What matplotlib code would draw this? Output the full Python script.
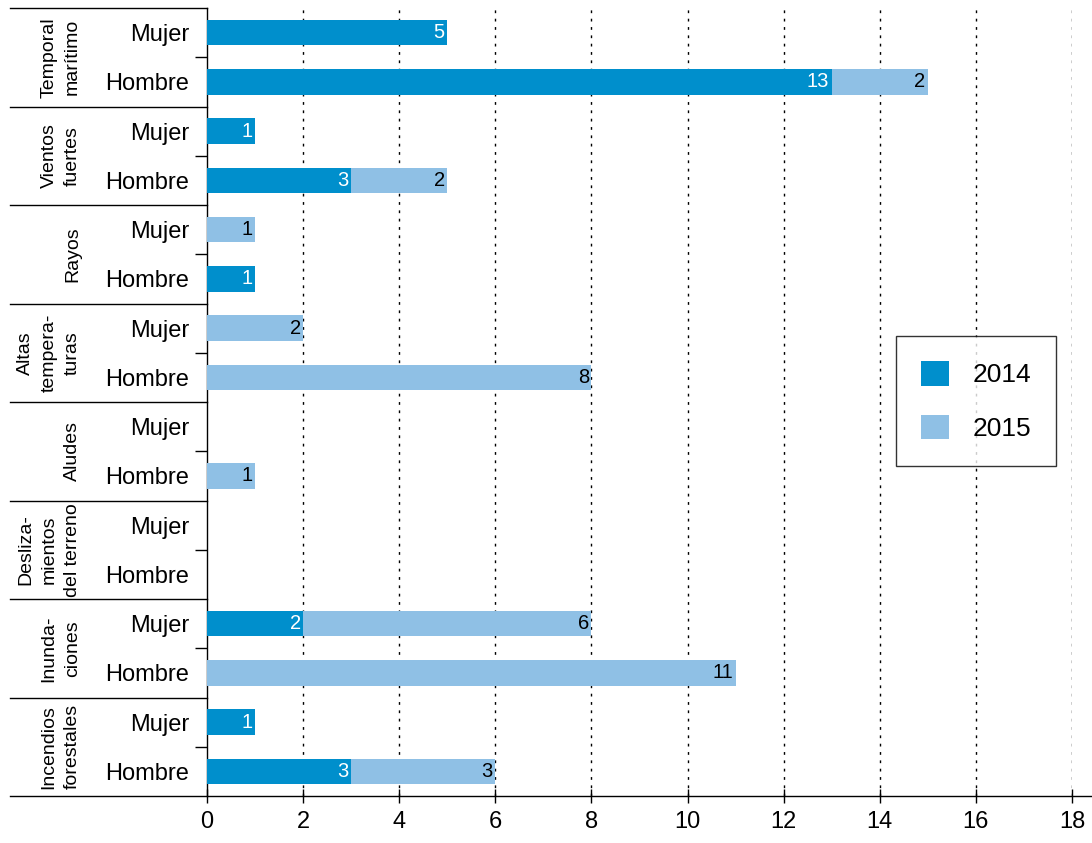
import matplotlib.pyplot as plt
import matplotlib.transforms as mtransforms
from matplotlib.patches import Patch

plt.rcParams['font.family'] = ['Liberation Sans', 'DejaVu Sans']

groups = ["Temporal\nmarítimo", "Vientos\nfuertes", "Rayos", "Altas\ntempera-\nturas",
          "Aludes", "Desliza-\nmientos\ndel terreno", "Inunda-\nciones", "Incendios\nforestales"]
sexes = ["Mujer", "Hombre"]
# values per row, top to bottom (Mujer, Hombre for each group)
v2014 = [5, 13, 1, 3, 0, 1, 0, 0, 0, 0, 0, 0, 2, 0, 1, 3]
v2015 = [0, 2, 0, 2, 1, 0, 2, 8, 0, 1, 0, 0, 6, 11, 0, 3]
years = ["2014", "2015"]
c2014 = "#008fcc"
c2015 = "#8fc0e5"

fig = plt.figure(figsize=(10.92, 8.43), dpi=100)
ax = fig.add_axes([207 / 1092, 47 / 843, 865 / 1092, 788 / 843])

rows = list(range(len(v2014)))
ax.barh(rows, v2014, height=0.52, color=c2014, zorder=3)
ax.barh(rows, v2015, left=v2014, height=0.52, color=c2015, zorder=3)

# value labels at the end of each segment
for r in rows:
    if v2014[r] > 0:
        ax.text(v2014[r] - 0.05, r, str(v2014[r]), ha='right', va='center',
                color='white', fontsize=14.5, zorder=4)
    if v2015[r] > 0:
        ax.text(v2014[r] + v2015[r] - 0.05, r, str(v2015[r]), ha='right', va='center',
                color='black', fontsize=14.5, zorder=4)

ax.set_xlim(0, 18)
ax.set_ylim(len(rows) - 0.5, -0.5)
ax.set_xticks(range(0, 19, 2))
ax.tick_params(axis='x', direction='inout', length=10, width=1, labelsize=17, pad=6)
ax.set_yticks(rows)
ax.set_yticklabels(sexes * len(groups))
ax.tick_params(axis='y', which='major', length=0, labelsize=17, pad=13)
ax.set_yticks([2 * i + 0.5 for i in range(len(groups))], minor=True)
ax.tick_params(axis='y', which='minor', length=9, width=1, direction='out')

for x in range(2, 19, 2):
    ax.axvline(x, color='black', linestyle=(0, (2, 4)), linewidth=1, zorder=1)

for s in ['top', 'right', 'bottom']:
    ax.spines[s].set_visible(False)
ax.spines['left'].set_linewidth(1)

# group separators and labels on the left
trans = mtransforms.blended_transform_factory(ax.transAxes, ax.transData)
x_left = (10 - 207) / 865
for i in range(len(groups) + 1):
    yb = 2 * i - 0.5
    x_right = 1.03 if i == len(groups) else 0
    ax.plot([x_left, x_right], [yb, yb], color='black', linewidth=1,
            transform=trans, clip_on=False)
for i, g in enumerate(groups):
    ax.text((81 - 207) / 865, 2 * i + 0.5, g, rotation=90, ha='right', va='center',
            multialignment='center', fontsize=14, linespacing=1.5, transform=trans,
            family=['Liberation Sans Narrow', 'Liberation Sans'])

handles = [Patch(facecolor=c2014), Patch(facecolor=c2015)]
leg = fig.legend(handles, years, loc='upper left', bbox_to_anchor=(896 / 1092, 1 - 336 / 843),
                 fontsize=19, frameon=True, fancybox=False, edgecolor='black',
                 handlelength=1.05, handleheight=1.05, labelspacing=1.05, borderpad=0.95,
                 handletextpad=0.9, borderaxespad=0)
leg.get_frame().set_linewidth(1)

fig.savefig("out.png", dpi=100)
